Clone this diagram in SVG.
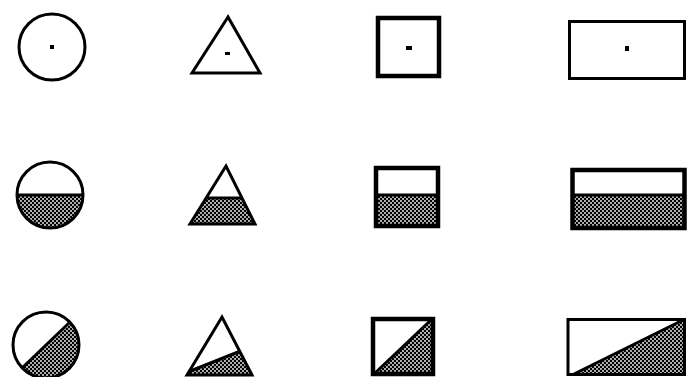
<svg xmlns="http://www.w3.org/2000/svg" width="687" height="377" viewBox="0 0 687 377">
<style>
.o{fill:none;stroke:#000;stroke-width:3;stroke-linejoin:miter}
.t{fill:none;stroke:#000;stroke-width:4.5}
.s{fill:url(#stip)}
.d{fill:#000}
</style>
<defs>
<pattern id="stip" width="4" height="4" patternUnits="userSpaceOnUse">
<rect width="4" height="4" fill="#000"/>
<circle cx="1" cy="1" r="0.9" fill="#fff"/>
<circle cx="3" cy="3" r="0.9" fill="#fff"/>
</pattern>
<clipPath id="c21"><circle cx="50" cy="195" r="33"/></clipPath>
<clipPath id="c22"><polygon points="226,166 190,224 255,224"/></clipPath>
<clipPath id="c31"><circle cx="46" cy="345" r="33"/></clipPath>
<clipPath id="c32"><polygon points="222,317 187,375 252,375"/></clipPath>
</defs>
<rect width="687" height="377" fill="#fff"/>
<g id="connectors"></g>
<g id="circle-dot">
<circle class="o" cx="52" cy="47" r="33"/>
<rect class="d" x="50" y="45" width="4" height="4"/>
</g>
<g id="triangle-dot">
<polygon class="o" points="228,17 192,73 260,73"/>
<rect class="d" x="225" y="52" width="5" height="3"/>
</g>
<g id="square-dot">
<rect class="t" x="378" y="18" width="61" height="58"/>
<rect class="d" x="406" y="46" width="6" height="4"/>
</g>
<g id="rect-dot">
<rect class="o" x="569.5" y="21.5" width="115" height="57"/>
<rect class="d" x="625" y="46" width="4" height="5"/>
</g>
<g id="circle-half">
<rect class="s" x="16" y="195" width="70" height="36" clip-path="url(#c21)"/>
<circle class="o" cx="50" cy="195" r="33"/>
<line class="o" x1="17" y1="195" x2="83" y2="195"/>
</g>
<g id="triangle-half">
<rect class="s" x="188" y="198" width="70" height="28" clip-path="url(#c22)"/>
<polygon class="o" points="226,166 190,224 255,224"/>
<line class="o" x1="206" y1="198" x2="240" y2="198"/>
</g>
<g id="square-half">
<rect class="s" x="376" y="195" width="62" height="31"/>
<rect class="t" x="376" y="168" width="62" height="58"/>
<line class="o" x1="376" y1="195" x2="438" y2="195"/>
</g>
<g id="rect-half">
<rect class="s" x="572" y="195" width="113" height="33"/>
<rect class="t" x="572.5" y="170" width="112" height="58"/>
<line class="o" x1="572" y1="195" x2="685" y2="195"/>
</g>
<g id="circle-diag">
<polygon class="s" points="-10,397 110,287 110,400 -10,400" clip-path="url(#c31)"/>
<circle class="o" cx="46" cy="345" r="33"/>
<line class="o" x1="22" y1="368" x2="70" y2="322" clip-path="url(#c31)"/>
</g>
<g id="triangle-diag">
<polygon class="s" points="180,373 260,344 260,380 180,380" clip-path="url(#c32)"/>
<polygon class="o" points="222,317 187,375 252,375"/>
<line class="o" x1="188" y1="372" x2="243" y2="350" clip-path="url(#c32)"/>
</g>
<g id="square-diag">
<polygon class="s" points="374,374 433,318 433,374"/>
<rect class="t" x="373" y="319" width="60" height="55"/>
<line class="o" x1="374" y1="374" x2="433" y2="318"/>
</g>
<g id="rect-diag">
<polygon class="s" points="574,374 685,319 685,374"/>
<rect class="o" x="568" y="319.5" width="116.5" height="55"/>
<line class="o" x1="574" y1="374" x2="685" y2="319"/>
</g>
</svg>
